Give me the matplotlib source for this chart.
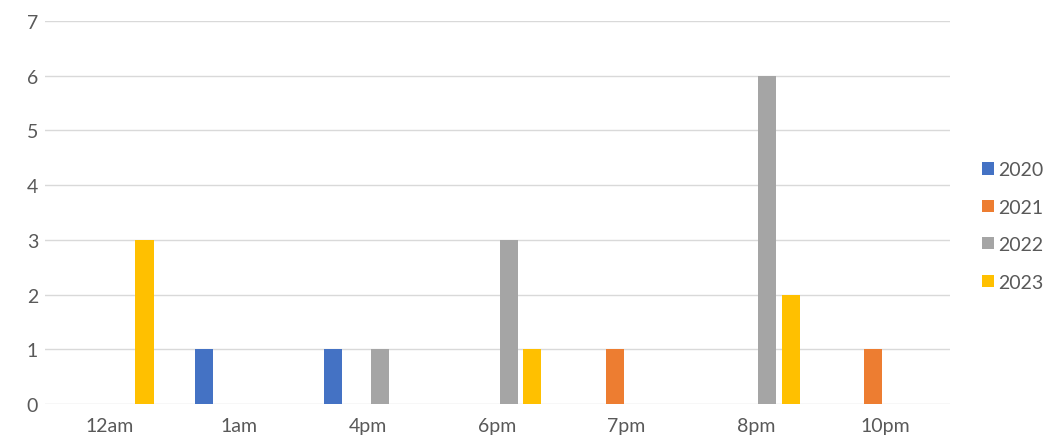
import matplotlib.pyplot as plt
import numpy as np

# hours and counts per year
hours = ["12am", "1am", "4pm", "6pm", "7pm", "8pm", "10pm"]
years = ["2020", "2021", "2022", "2023"]
y2020 = [0, 1, 1, 0, 0, 0, 0]
y2021 = [0, 0, 0, 0, 1, 0, 1]
y2022 = [0, 0, 1, 3, 0, 6, 0]
y2023 = [3, 0, 0, 1, 0, 2, 0]
colors = ["#4472C4", "#ED7D31", "#A5A5A5", "#FFC000"]

plt.rcParams['font.family'] = ['Lato', 'DejaVu Sans']

fig = plt.figure(figsize=(10.47, 4.39), dpi=100)
ax = fig.add_axes([0.043, 0.0774, 0.864, 0.8726])

x = np.arange(len(hours))
slot = 0.18
for i, (vals, yr) in enumerate(zip([y2020, y2021, y2022, y2023], years)):
    ax.bar(x + (i - 1.5) * slot, vals, width=0.14, color=colors[i], label=yr, zorder=3)

ax.set_xlim(-0.5, len(hours) - 0.5)
ax.set_ylim(0, 7)
ax.set_yticks(range(0, 8))
ax.set_xticks(x)
ax.set_xticklabels(hours)
ax.grid(axis='y', color='#D9D9D9', linewidth=1, zorder=0)
for s in ax.spines.values():
    s.set_visible(False)
ax.tick_params(length=0, colors='#595959', labelsize=14)
ax.tick_params(axis='y', pad=5)
ax.tick_params(axis='x', pad=9)

ax.legend(loc='center left', bbox_to_anchor=(0.938, 0.483), bbox_transform=fig.transFigure,
          frameon=False, borderpad=0, borderaxespad=0,
          fontsize=14, labelcolor='#595959', handlelength=0.6, handleheight=0.6,
          handletextpad=0.25, labelspacing=1.05)

fig.savefig("out.png", dpi=100)
